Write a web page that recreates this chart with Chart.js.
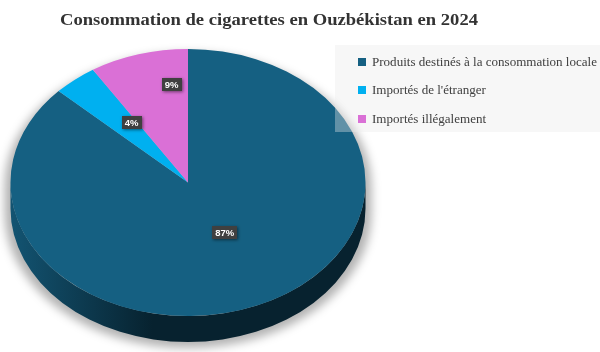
<!DOCTYPE html>
<html>
<head>
<meta charset="utf-8">
<script src="https://cdn.jsdelivr.net/npm/chart.js@4.4.1/dist/chart.umd.min.js"></script>
<style>
  body { margin: 0; background: #fff; }
  #wrap { width: 600px; height: 352px; }
</style>
</head>
<body>
<div id="wrap"><canvas id="chart" width="600" height="352"></canvas></div>
<script>
const title = 'Consommation de cigarettes en Ouzbékistan en 2024';
const categories = ['Produits destinés à la consommation locale', "Importés de l'étranger", 'Importés illégalement'];
const shares = [87, 4, 9];

const colors = ['#156082', '#00b0f0', '#da70d6'];
const sideLeft = ['#135472', '#008cc0', '#b058ac'];
const sideRight = ['#07222f', '#005a7a', '#6e3570'];

// where the flattened pie sits on the page
const CX = 188, CY = 182.5, RX = 177.5, RY = 133.5, DEPTH = 26;
// label spot inside each slice: share of the slice angle, share of radius
const labelSpot = [[0.483, 0.43], [0.8, 0.55], [0.78, 0.74]];

function segmentsOnFront(a1, a2) {
  // visible side = lower half of the ellipse, angles 0..PI
  let out = [];
  for (let k = -2; k <= 2; k++) {
    let lo = Math.max(a1, k * 2 * Math.PI);
    let hi = Math.min(a2, k * 2 * Math.PI + Math.PI);
    if (hi > lo) out.push([lo - k * 2 * Math.PI, hi - k * 2 * Math.PI]);
  }
  return out;
}

function stretchedText(ctx, text, x, y, k) {
  ctx.save();
  ctx.translate(x, y);
  ctx.scale(k, 1);
  ctx.fillText(text, 0, 0);
  ctx.restore();
}

const pie3d = {
  id: 'pie3d',
  beforeDatasetsDraw(chart) {
    const ctx = chart.ctx;
    const arcs = chart.getDatasetMeta(0).data;
    const a0 = arcs[0];
    const ox = a0.x, oy = a0.y, r = a0.outerRadius;

    // soft shadow
    ctx.save();
    ctx.filter = 'blur(5px)';
    ctx.fillStyle = 'rgba(0,0,0,0.30)';
    ctx.beginPath();
    ctx.ellipse(CX, CY + 4, RX + 6, RY, 0, Math.PI, 2 * Math.PI);
    ctx.ellipse(CX, CY + DEPTH + 4, RX + 6, RY + 2, 0, 0, Math.PI);
    ctx.closePath();
    ctx.fill();
    ctx.restore();

    // side walls
    arcs.forEach((arc, i) => {
      const g = ctx.createLinearGradient(CX - RX, 0, CX + RX, 0);
      g.addColorStop(0, sideLeft[i]);
      g.addColorStop(0.4, sideRight[i]);
      g.addColorStop(1, sideRight[i]);
      segmentsOnFront(arc.startAngle, arc.endAngle).forEach(([b1, b2]) => {
        ctx.beginPath();
        ctx.ellipse(CX, CY, RX, RY, 0, b1, b2);
        ctx.ellipse(CX, CY + DEPTH, RX, RY, 0, b2, b1, true);
        ctx.closePath();
        ctx.fillStyle = g;
        ctx.fill();
      });
    });

    ctx.save();
    ctx.translate(CX, CY);
    ctx.scale(RX / r, RY / r);
    ctx.translate(-ox, -oy);
  },
  afterDatasetsDraw(chart) {
    const ctx = chart.ctx;
    ctx.restore();

    // title
    ctx.save();
    ctx.fillStyle = '#333333';
    ctx.textBaseline = 'middle';
    ctx.textAlign = 'left';
    ctx.font = 'bold 17px "Liberation Serif"';
    let tk = 418 / ctx.measureText(title).width;
    stretchedText(ctx, title, 60, 21, tk);
    ctx.restore();

    // legend
    ctx.save();
    ctx.fillStyle = 'rgba(232,232,232,0.36)';
    ctx.fillRect(335, 45, 265, 87);
    ctx.font = '13.5px "Liberation Serif"';
    ctx.textBaseline = 'middle';
    let widest = Math.max(...categories.map(c => ctx.measureText(c).width));
    let lk = 225 / widest;
    const rows = [62, 90, 119];
    categories.forEach((c, i) => {
      ctx.fillStyle = colors[i];
      ctx.fillRect(358, rows[i] - 4, 8, 8);
      ctx.fillStyle = '#404040';
      stretchedText(ctx, c, 372, rows[i] + 0.5, lk);
    });
    ctx.restore();

    // data labels
    const arcs = chart.getDatasetMeta(0).data;
    const total = shares.reduce((a, b) => a + b, 0);
    ctx.save();
    ctx.font = 'bold 9.5px "Liberation Sans"';
    ctx.textAlign = 'center';
    ctx.textBaseline = 'middle';
    arcs.forEach((arc, i) => {
      const [fa, fr] = labelSpot[i];
      const ang = arc.startAngle + fa * (arc.endAngle - arc.startAngle);
      const x = CX + Math.cos(ang) * RX * fr;
      const y = CY + Math.sin(ang) * RY * fr;
      const txt = Math.round(shares[i] / total * 100) + '%';
      const w = ctx.measureText(txt).width + 6;
      const h = 13;
      ctx.save();
      ctx.shadowColor = 'rgba(0,0,0,0.5)';
      ctx.shadowBlur = 3;
      ctx.shadowOffsetX = 1;
      ctx.shadowOffsetY = 1;
      ctx.fillStyle = '#404040';
      ctx.fillRect(Math.round(x - w / 2), Math.round(y - h / 2), Math.round(w), h);
      ctx.restore();
      ctx.fillStyle = '#ffffff';
      ctx.fillText(txt, x, y + 0.5);
    });
    ctx.restore();
  }
};

new Chart(document.getElementById('chart'), {
  type: 'pie',
  data: {
    labels: categories,
    datasets: [{
      data: shares,
      backgroundColor: colors,
      borderWidth: 0,
      clip: false
    }]
  },
  options: {
    responsive: false,
    animation: false,
    devicePixelRatio: 1,
    events: [],
    layout: { padding: { left: 10, right: 234, top: 5, bottom: 5 } },
    plugins: {
      legend: { display: false },
      title: { display: false },
      tooltip: { enabled: false }
    }
  },
  plugins: [pie3d]
});
</script>
</body>
</html>
